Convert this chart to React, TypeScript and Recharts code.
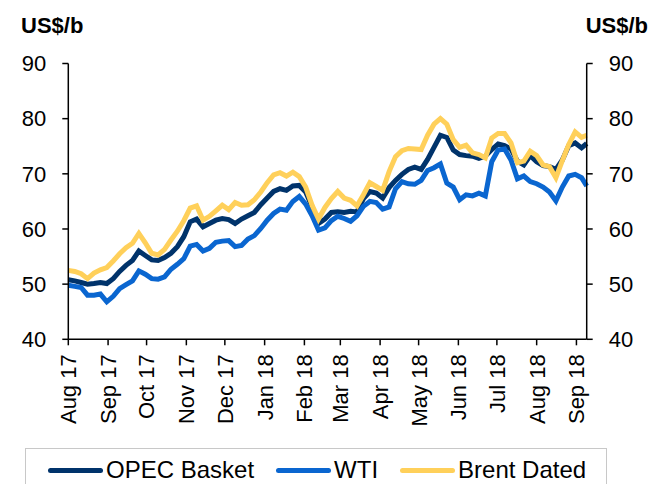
import React from "react";
import { LineChart, Line, XAxis, YAxis } from "recharts";

// day offsets from 1 Aug 2017
const days = [
  0, 5, 10, 15, 20, 25, 30, 35, 40, 45, 50, 55, 60, 65, 70, 75, 80, 85, 90, 95,
  100, 105, 110, 115, 120, 125, 130, 135, 140, 145, 150, 155, 160, 165, 170, 175,
  180, 185, 190, 195, 200, 205, 210, 215, 220, 225, 230, 235, 240, 245, 250, 255,
  260, 265, 270, 275, 280, 285, 290, 295, 300, 305, 310, 315, 320, 325, 330, 335,
  340, 345, 350, 355, 360, 365, 370, 375, 380, 385, 390, 395, 400, 404,
];

const opec = [
  50.8, 50.6, 50.3, 50, 50.1, 50.3, 50.1, 51, 52.3, 53.4, 54.3, 56, 55.2, 54.4,
  54.3, 54.8, 55.6, 56.8, 58.6, 61.3, 61.8, 60.4, 61, 61.6, 61.9, 61.7, 61, 61.8,
  62.4, 63, 64.4, 65.6, 66.8, 67.3, 67, 67.8, 67.9, 66.7, 64, 61, 61.8, 63, 63.1,
  63, 63.2, 63.1, 65.5, 66.8, 66.5, 65.6, 67.5, 68.8, 69.9, 70.8, 71.2, 70.8,
  72.6, 74.8, 77, 76.6, 74.3, 73.5, 73.3, 73.2, 72.8, 73.2, 74.4, 75.4, 75.1,
  74.5, 72.3, 71.6, 73.3, 72.2, 71.5, 71.3, 70.8, 72.5, 75.1, 75.6, 74.7, 75.5,
];

const wti = [
  49.8, 49.6, 49.4, 48, 48, 48.2, 46.8, 47.8, 49.2, 49.9, 50.6, 52.4, 51.8, 51,
  50.9, 51.3, 52.7, 53.6, 54.6, 56.9, 57.2, 56, 56.5, 57.6, 57.8, 57.9, 56.8, 57,
  58.2, 58.8, 60.1, 61.6, 62.8, 63.6, 63.4, 65, 65.9, 64.5, 62.4, 59.8, 60.2,
  61.5, 62.3, 61.9, 61.4, 62.4, 64.1, 65, 64.8, 63.6, 64, 67.3, 68.6, 68.2, 68.1,
  68.8, 70.6, 71.1, 71.8, 68.3, 67.6, 65.3, 66.2, 66, 66.5, 66, 72.2, 74.3, 74.5,
  72.5, 69.1, 69.6, 68.6, 68.2, 67.6, 66.7, 65.1, 67.6, 69.6, 69.9, 69.3, 67.8,
];

const brent = [
  52.5, 52.3, 51.9, 51, 52, 52.6, 53, 54.2, 55.5, 56.6, 57.4, 59.2, 57.5, 55.6,
  55.3, 56.3, 58, 59.6, 61.5, 63.8, 64.2, 61.6, 62.3, 63.3, 64.3, 63.5, 64.8,
  64.3, 64.4, 65.3, 66.7, 68.4, 69.8, 70.2, 69.6, 70.3, 69.5, 67.6, 64.3, 61.8,
  63.9, 65.5, 66.8, 65.6, 65.2, 64.2, 66.2, 68.4, 67.7, 67, 70.4, 73.1, 74.2,
  74.6, 74.5, 74.4, 77, 79, 80, 79, 76.2, 74.8, 75.2, 73.8, 73.5, 72.9, 76.5,
  77.3, 77.3, 75.6, 72, 72.3, 74.1, 73.3, 71.6, 71.3, 69.3, 72.4, 75.3, 77.6,
  76.6, 77,
];

const monthTicks = [0, 31, 61, 92, 122, 153, 184, 212, 243, 273, 304, 334, 365, 396];
const monthLabels = [
  "Aug 17", "Sep 17", "Oct 17", "Nov 17", "Dec 17", "Jan 18", "Feb 18",
  "Mar 18", "Apr 18", "May 18", "Jun 18", "Jul 18", "Aug 18", "Sep 18",
];
const yTicks = [40, 50, 60, 70, 80, 90];

const seriesNames = ["OPEC Basket", "WTI", "Brent Dated"];
const seriesColors = ["#00336b", "#0a66d0", "#ffd05a"];

const data = days.map((d, i) => ({
  day: d,
  opec: opec[i],
  wti: wti[i],
  brent: brent[i],
}));

const FONT = "'Liberation Sans', Arial, sans-serif";

const MonthTick = (props: any) => {
  const { x, y, payload } = props;
  const label = monthLabels[monthTicks.indexOf(payload.value)];
  return (
    <g transform={`translate(${x},${y + 7})`}>
      <text
        transform="rotate(-90)"
        textAnchor="end"
        dy="0.36em"
        fontSize={22}
        fontFamily={FONT}
        fill="#000"
      >
        {label}
      </text>
    </g>
  );
};

const axisStyle = { stroke: "#000", strokeWidth: 1.5 };
const tickStyle = { fontSize: 22, fill: "#000", fontFamily: FONT };

const App: React.FC = () => {
  return (
    <div
      style={{
        position: "absolute",
        left: 0,
        top: 0,
        width: 657,
        height: 484,
        overflow: "hidden",
        background: "#fff",
        fontFamily: FONT,
      }}
    >
      <div style={{ position: "absolute", left: 21, top: 13, fontSize: 22, fontWeight: "bold", lineHeight: "normal" }}>
        US$/b
      </div>
      <div style={{ position: "absolute", right: 9, top: 13, fontSize: 22, fontWeight: "bold", lineHeight: "normal" }}>
        US$/b
      </div>

      <LineChart
        width={657}
        height={484}
        data={data}
        margin={{ top: 63.5, left: 8.3, right: 10.3, bottom: 54.7 }}
      >
        <XAxis
          dataKey="day"
          type="number"
          domain={[0, 404]}
          ticks={monthTicks}
          interval={0}
          height={90}
          tick={<MonthTick />}
          tickSize={6}
          axisLine={axisStyle}
          tickLine={axisStyle}
        />
        <YAxis
          yAxisId="left"
          domain={[40, 90]}
          ticks={yTicks}
          interval={0}
          width={60}
          tickSize={6}
          tickMargin={16}
          axisLine={axisStyle}
          tickLine={axisStyle}
          tick={tickStyle}
        />
        <YAxis
          yAxisId="right"
          orientation="right"
          domain={[40, 90]}
          ticks={yTicks}
          interval={0}
          width={60}
          tickSize={6}
          tickMargin={16}
          axisLine={axisStyle}
          tickLine={axisStyle}
          tick={tickStyle}
        />
        <Line
          yAxisId="left"
          dataKey="opec"
          type="linear"
          stroke={seriesColors[0]}
          strokeWidth={5}
          dot={false}
          isAnimationActive={false}
        />
        <Line
          yAxisId="left"
          dataKey="wti"
          type="linear"
          stroke={seriesColors[1]}
          strokeWidth={5}
          dot={false}
          isAnimationActive={false}
        />
        <Line
          yAxisId="right"
          dataKey="brent"
          type="linear"
          stroke={seriesColors[2]}
          strokeWidth={5}
          dot={false}
          isAnimationActive={false}
        />
      </LineChart>

      {/* legend */}
      <div
        style={{
          position: "absolute",
          left: 25,
          top: 448,
          width: 582,
          height: 60,
          border: "1px solid #c8c8c8",
          display: "flex",
          alignItems: "flex-start",
          paddingTop: 7,
          boxSizing: "border-box",
          fontSize: 24,
        }}
      >
        {seriesNames.map((name, i) => (
          <div
            key={name}
            style={{
              display: "flex",
              alignItems: "center",
              marginLeft: i === 0 ? 22 : 22,
            }}
          >
            <span
              style={{
                display: "inline-block",
                width: 55,
                height: 5,
                borderRadius: 3,
                background: seriesColors[i],
                marginRight: 3,
              }}
            />
            <span>{name}</span>
          </div>
        ))}
      </div>
    </div>
  );
};

export default App;
